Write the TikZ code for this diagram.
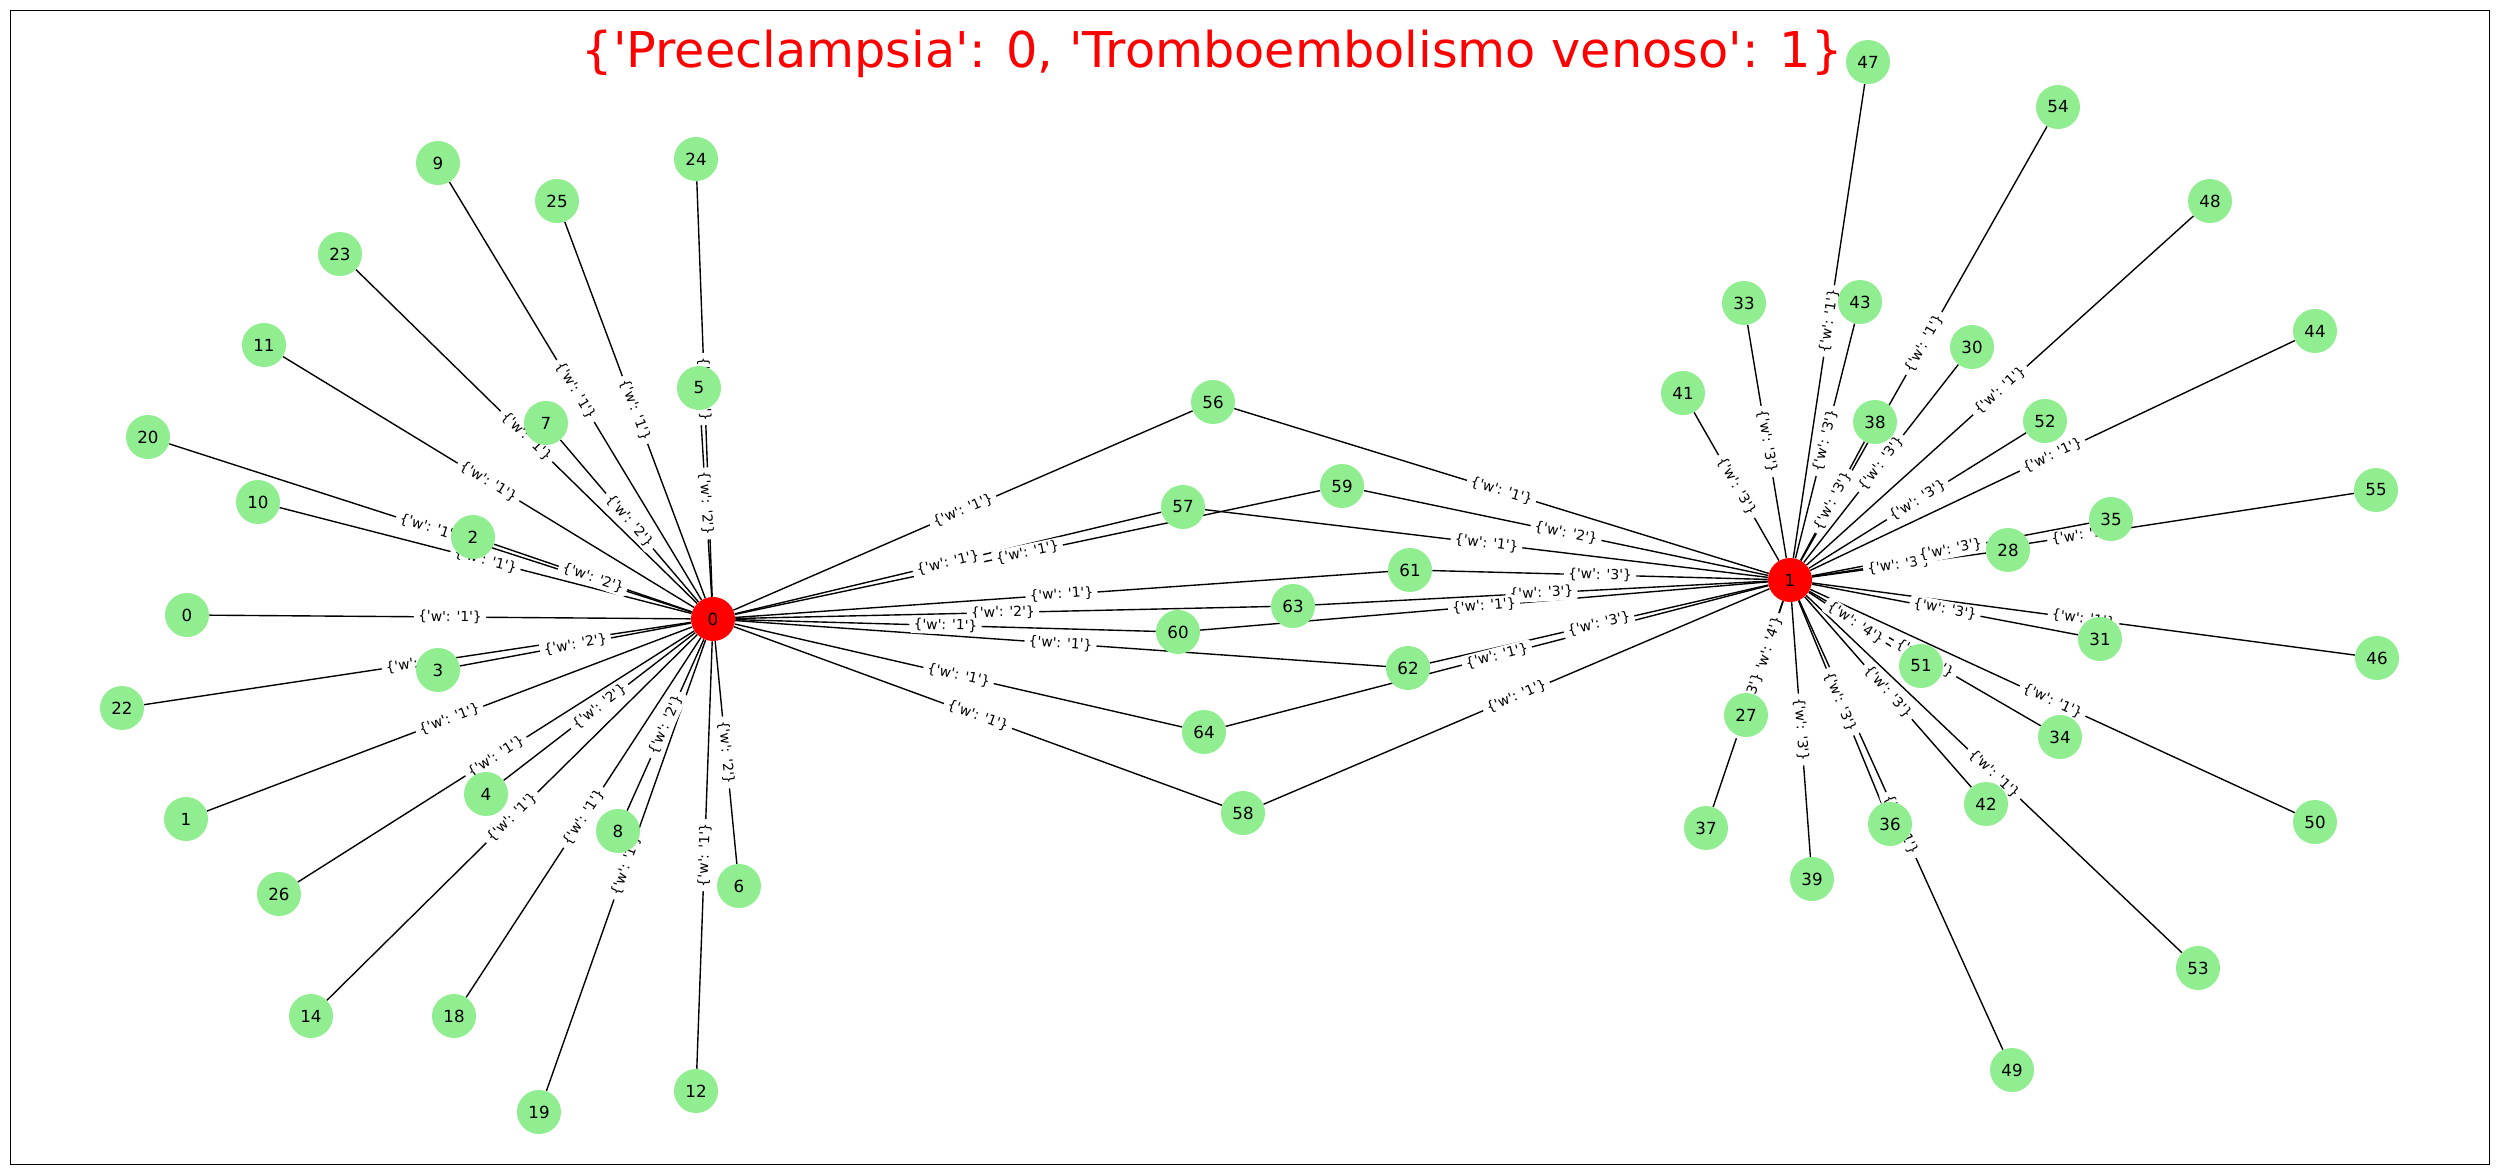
\documentclass[tikz,border=0pt]{standalone}
\usepackage{fontspec}
\setmainfont{DejaVu Sans}
\pgfdeclarelayer{edges}
\pgfdeclarelayer{elabels}
\pgfsetlayers{edges,elabels,main}
\definecolor{lightgreen}{HTML}{90EE90}
\tikzset{
  gnode/.style={circle, fill=lightgreen, minimum size=0.44in, inner sep=0pt, font=\fontsize{12bp}{14bp}\selectfont},
  rnode/.style={gnode, fill=red},
  edgeline/.style={line width=1bp, black},
  elab/.style={sloped, pos=0.5, fill=white, rounded corners=2bp, inner xsep=3bp, inner ysep=1.5bp, font=\fontsize{10bp}{12bp}\selectfont, text=black},
  titlestyle/.style={text=red, anchor=base, inner sep=0pt, font=\fontsize{35.5bp}{42bp}\selectfont}
}
\newcommand{\qq}{\textquotesingle}
\newcommand{\gedge}[3]{%
  \begin{pgfonlayer}{edges}\draw[edgeline] (#1) -- (#2);\end{pgfonlayer}%
  \begin{pgfonlayer}{elabels}\path (#1) -- node[elab] {\{\qq w\qq: \qq #3\qq\}} (#2);\end{pgfonlayer}%
}
\begin{document}
\begin{tikzpicture}[x=0.01in, y=-0.01in]
\useasboundingbox (0,0) rectangle (2500,1175);
\draw[line width=0.8bp] (10.2,10.7) rectangle (2489.8,1164.7);
\node[titlestyle] (title) at (1212,67) {\{\qq Preeclampsia\qq: 0, \qq Tromboembolismo venoso\qq: 1\}};
% disease nodes
\node[rnode] (r0) at (713,619) {0};
\node[rnode] (r1) at (1790,580) {1};
% other nodes
\foreach \n/\x/\y in {0/187/615, 1/186/819, 2/473/537, 3/438/670, 4/486/794, 5/699/388, 6/739/886, 7/546/423, 8/618/831, 9/438/163, 10/258/502, 11/264/345, 12/696/1091, 14/311/1016, 18/454/1016, 19/539/1112, 20/148/437, 22/122/708, 23/340/254, 24/696/159, 25/557/201, 26/279/894,
27/1746/715, 28/2008/550, 30/1972/347, 31/2100/639, 33/1744/303, 34/2060/737, 35/2111/519, 36/1890/824, 37/1706/828, 38/1875/422, 39/1812/879, 41/1683/393, 42/1986/804, 43/1860/302, 44/2315/331, 46/2377/658, 47/1868/62, 48/2210/201, 49/2012/1070, 50/2315/822, 51/1921/666, 52/2045/421, 53/2198/968, 54/2058/107, 55/2376/490,
56/1213/402, 57/1183/507, 58/1243/813, 59/1342/486, 60/1178/632, 61/1410/570, 62/1408/668, 63/1293/606, 64/1204/732}
  \node[gnode] (g\n) at (\x,\y) {\n};
% edges of node 0
\foreach \a/\b/\w in {r0/g0/1, r0/g22/1, r0/g3/2, r0/g1/1, r0/g26/1, r0/g4/2, r0/g14/1, r0/g18/1, r0/g8/2, r0/g19/1, r0/g12/1, r0/g6/2, r0/g20/1, r0/g10/1, r0/g2/2, r0/g11/1, r0/g23/1, r0/g7/2, r0/g9/1, r0/g25/1, r0/g24/1, r0/g5/2, r0/g56/1, r0/g57/1, r0/g59/1, r0/g61/1, r0/g63/2, r0/g60/1, r0/g62/1, r0/g64/1, r0/g58/1}
  {\gedge{\a}{\b}{\w}}
% edges of node 1
\foreach \a/\b/\w in {r1/g56/1, r1/g57/1, r1/g59/2, r1/g61/3, r1/g63/3, r1/g60/1, r1/g62/3, r1/g64/1, r1/g58/1, r1/g41/3, r1/g33/3, r1/g47/1, r1/g43/3, r1/g54/1, r1/g38/3, r1/g30/3, r1/g48/1, r1/g52/3, r1/g44/1, r1/g28/3, r1/g35/3, r1/g55/1, r1/g31/3, r1/g46/1, r1/g51/4, r1/g34/1, r1/g50/1, r1/g42/3, r1/g53/1, r1/g36/3, r1/g49/1, r1/g39/3, r1/g27/4, r1/g37/3}
  {\gedge{\a}{\b}{\w}}
\end{tikzpicture}
\end{document}
